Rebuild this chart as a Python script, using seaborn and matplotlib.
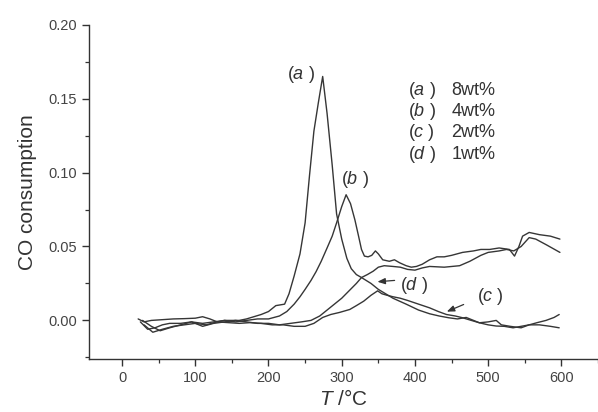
import matplotlib
matplotlib.use("Agg")
import matplotlib.pyplot as plt
from matplotlib.ticker import MultipleLocator, FormatStrFormatter
import seaborn as sns
import pandas as pd

# ---------------- data ----------------
labels = ["a", "b", "c", "d"]
loadings = ["8wt%", "4wt%", "2wt%", "1wt%"]

T_a = [22, 30, 40, 55, 70, 85, 100, 110, 120, 130, 140, 150, 160, 170, 180, 190,
       200, 210, 222, 228, 235, 243, 250, 256, 262, 268, 274, 280, 287, 293, 300,
       307, 313, 320, 327, 335, 343, 350, 358, 370, 380, 390, 400, 410, 420, 440,
       461, 475, 490, 500, 515, 525, 535, 545, 556, 565, 580, 598]
co_a = [0.001, -0.001, 0.0, 0.0005, 0.001, 0.0012, 0.0015, 0.0025, 0.001, -0.001,
        0.0, 0.0, 0.0, 0.001, 0.0025, 0.004, 0.006, 0.010, 0.011, 0.018, 0.030,
        0.045, 0.066, 0.098, 0.128, 0.147, 0.165, 0.140, 0.105, 0.072, 0.055,
        0.042, 0.035, 0.031, 0.029, 0.031, 0.0333, 0.036, 0.037, 0.0365, 0.036,
        0.0345, 0.034, 0.0355, 0.0365, 0.036, 0.037, 0.040, 0.044, 0.046, 0.047,
        0.048, 0.047, 0.050, 0.056, 0.055, 0.051, 0.046]

T_b = [25, 35, 45, 55, 65, 80, 95, 110, 125, 140, 155, 170, 185, 200, 215, 225,
       235, 243, 250, 258, 265, 272, 280, 287, 293, 300, 306, 312, 318, 323, 327,
       331, 336, 341, 346, 350, 356, 365, 372, 379, 388, 395, 402, 410, 420, 430,
       440, 450, 465, 480, 490, 502, 515, 529, 536, 542, 547, 556, 570, 585, 598]
co_b = [-0.001, -0.006, -0.005, -0.003, -0.002, -0.002, -0.001, -0.002, -0.001,
        0.0, -0.001, 0.0, 0.001, 0.001, 0.003, 0.006, 0.011, 0.016, 0.021, 0.027,
        0.033, 0.040, 0.049, 0.057, 0.066, 0.077, 0.085, 0.079, 0.068, 0.057,
        0.048, 0.0435, 0.043, 0.044, 0.047, 0.045, 0.041, 0.040, 0.041, 0.039,
        0.037, 0.036, 0.0365, 0.038, 0.041, 0.043, 0.043, 0.044, 0.046, 0.047,
        0.048, 0.048, 0.049, 0.048, 0.0435, 0.050, 0.057, 0.0595, 0.058, 0.057,
        0.055]

T_c = [30, 42, 55, 70, 85, 100, 115, 130, 145, 160, 175, 190, 205, 220, 235, 250,
       262, 274, 285, 297, 311, 320, 330, 340, 349, 355, 362, 370, 380, 390, 405,
       420, 432, 443, 455, 465, 477, 488, 500, 511, 522, 534, 545, 556, 567, 579,
       590, 597]
co_c = [-0.003, -0.008, -0.006, -0.004, -0.003, -0.002, -0.003, -0.001, -0.0015,
        -0.002, -0.0015, -0.002, -0.003, -0.003, -0.004, -0.004, -0.002, 0.002,
        0.004, 0.0054, 0.0074, 0.010, 0.013, 0.017, 0.020, 0.018, 0.017, 0.016,
        0.015, 0.0135, 0.011, 0.0085, 0.006, 0.004, 0.003, 0.0018, 0.0, -0.0016,
        -0.003, -0.0038, -0.004, -0.005, -0.004, -0.003, -0.0015, 0.0, 0.002,
        0.004]

T_d = [28, 40, 52, 65, 80, 95, 110, 125, 140, 155, 170, 185, 200, 215, 230, 245,
       258, 270, 280, 290, 300, 310, 320, 327, 340, 350, 360, 370, 388, 405, 420,
       433, 446, 458, 470, 480, 488, 500, 511, 518, 530, 545, 556, 570, 585, 597]
co_d = [0.0, -0.004, -0.007, -0.005, -0.003, -0.001, -0.004, -0.002, -0.001, 0.0,
        -0.001, -0.002, -0.002, -0.003, -0.002, -0.001, 0.0, 0.003, 0.007, 0.011,
        0.015, 0.020, 0.025, 0.029, 0.025, 0.021, 0.018, 0.015, 0.011, 0.007,
        0.0045, 0.003, 0.0018, 0.001, 0.002, 0.0, -0.0016, -0.001, 0.0, -0.003,
        -0.004, -0.005, -0.003, -0.003, -0.004, -0.005]

# ---------------- build long table ----------------
frames = []
for lab, T, co in [("a", T_a, co_a), ("b", T_b, co_b), ("c", T_c, co_c), ("d", T_d, co_d)]:
    frames.append(pd.DataFrame({"T": T, "CO": co, "sample": lab}))
df = pd.concat(frames, ignore_index=True)

# ---------------- style ----------------
sns.set_style("ticks")
plt.rcParams["font.family"] = ["Liberation Sans", "DejaVu Sans"]
plt.rcParams["mathtext.fontset"] = "custom"
plt.rcParams["mathtext.it"] = "Liberation Sans:italic"
plt.rcParams["mathtext.rm"] = "Liberation Sans"

fig = plt.figure(figsize=(5.98, 4.12), dpi=100)
ax = fig.add_axes([0.149, 0.129, 0.851, 0.811])

line_color = "#363636"
for lab in labels:
    sub = df[df["sample"] == lab]
    sns.lineplot(data=sub, x="T", y="CO", ax=ax, color=line_color,
                 linewidth=1.0, estimator=None, sort=False, legend=False)

ax.set_xlim(-45, 650)
ax.set_ylim(-0.026, 0.20)
ax.xaxis.set_major_locator(MultipleLocator(100))
ax.xaxis.set_minor_locator(MultipleLocator(50))
ax.yaxis.set_major_locator(MultipleLocator(0.05))
ax.yaxis.set_minor_locator(MultipleLocator(0.025))
ax.yaxis.set_major_formatter(FormatStrFormatter("%.2f"))
ax.set_xticks([0, 100, 200, 300, 400, 500, 600])

for s in ["top", "right"]:
    ax.spines[s].set_visible(False)
for s in ["left", "bottom"]:
    ax.spines[s].set_color("#333333")
    ax.spines[s].set_linewidth(1.0)

ax.tick_params(axis="both", which="major", direction="out", length=5, width=1.0,
               colors="#333333", labelsize=10.5, labelcolor="#444444")
ax.tick_params(axis="both", which="minor", direction="out", length=3, width=0.9,
               colors="#333333")

ax.set_xlabel("$\\it{T}$ /°C", fontsize=15, color="#333333", labelpad=3)
ax.set_ylabel("CO consumption", fontsize=15, color="#333333", labelpad=8)

# curve labels
txt_kw = dict(fontsize=13, color="#333333", ha="center", va="center")
ax.text(245, 0.166, "($\\it{a}$ )", **txt_kw)
ax.text(318, 0.095, "($\\it{b}$ )", **txt_kw)
ax.text(398, 0.0235, "($\\it{d}$ )", **txt_kw)
ax.text(503, 0.0165, "($\\it{c}$ )", **txt_kw)

arrow_kw = dict(arrowstyle="-|>,head_length=0.45,head_width=0.18", color="#333333", lw=0.9)
ax.annotate("", xy=(345, 0.026), xytext=(376, 0.0272), arrowprops=arrow_kw)
ax.annotate("", xy=(440, 0.0052), xytext=(470, 0.0115), arrowprops=arrow_kw)

# legend-like text block
rows_y = [0.1557, 0.1415, 0.127, 0.112]
for lab, load, yy in zip(labels, loadings, rows_y):
    ax.text(390, yy, "($\\it{" + lab + "}$ )", fontsize=13, color="#333333",
            ha="left", va="center")
    ax.text(450, yy, load, fontsize=13, color="#333333", ha="left", va="center")

fig.savefig("out.png", dpi=100)
